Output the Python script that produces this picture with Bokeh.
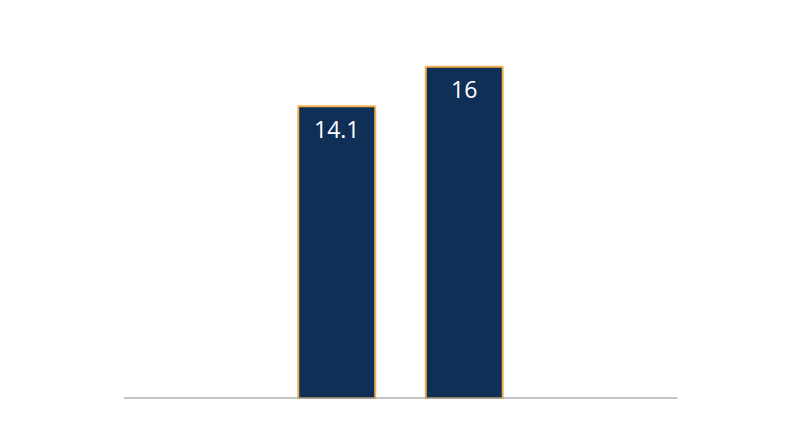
from bokeh.plotting import figure
from bokeh.models import ColumnDataSource, FactorRange, Span
from bokeh.core.properties import value
from bokeh.embed import file_html
from bokeh.resources import INLINE

categories = ["A", "B"]
values = [14.1, 16]
labels = ["14.1", "16"]

src = ColumnDataSource(dict(cat=categories, val=values, lab=labels))

W, H = 784, 431
p = figure(width=W, height=H, output_backend="svg", toolbar_location=None,
           x_range=FactorRange(factors=categories, range_padding=1.1725,
                               range_padding_units="absolute"),
           y_range=(0, 17.85),
           min_border_left=123, min_border_right=107,
           min_border_top=28, min_border_bottom=33)
p.vbar(x="cat", top="val", width=0.604, source=src,
       fill_color="#0F2F57", line_color="#F2B24E", line_width=2)
p.text(x="cat", y="val", text="lab", source=src, text_color="white",
       text_font=value("Open Sans"), text_font_size="23px",
       text_align="center", text_baseline="alphabetic", y_offset=23)
p.add_layout(Span(location=0, dimension="width", line_color="#8C8C8C", line_width=2))
p.xaxis.visible = False
p.yaxis.visible = False
p.xgrid.visible = False
p.ygrid.visible = False
p.outline_line_color = None
p.background_fill_color = "white"
p.border_fill_color = "white"

open("out.html", "w").write(file_html(p, INLINE))
